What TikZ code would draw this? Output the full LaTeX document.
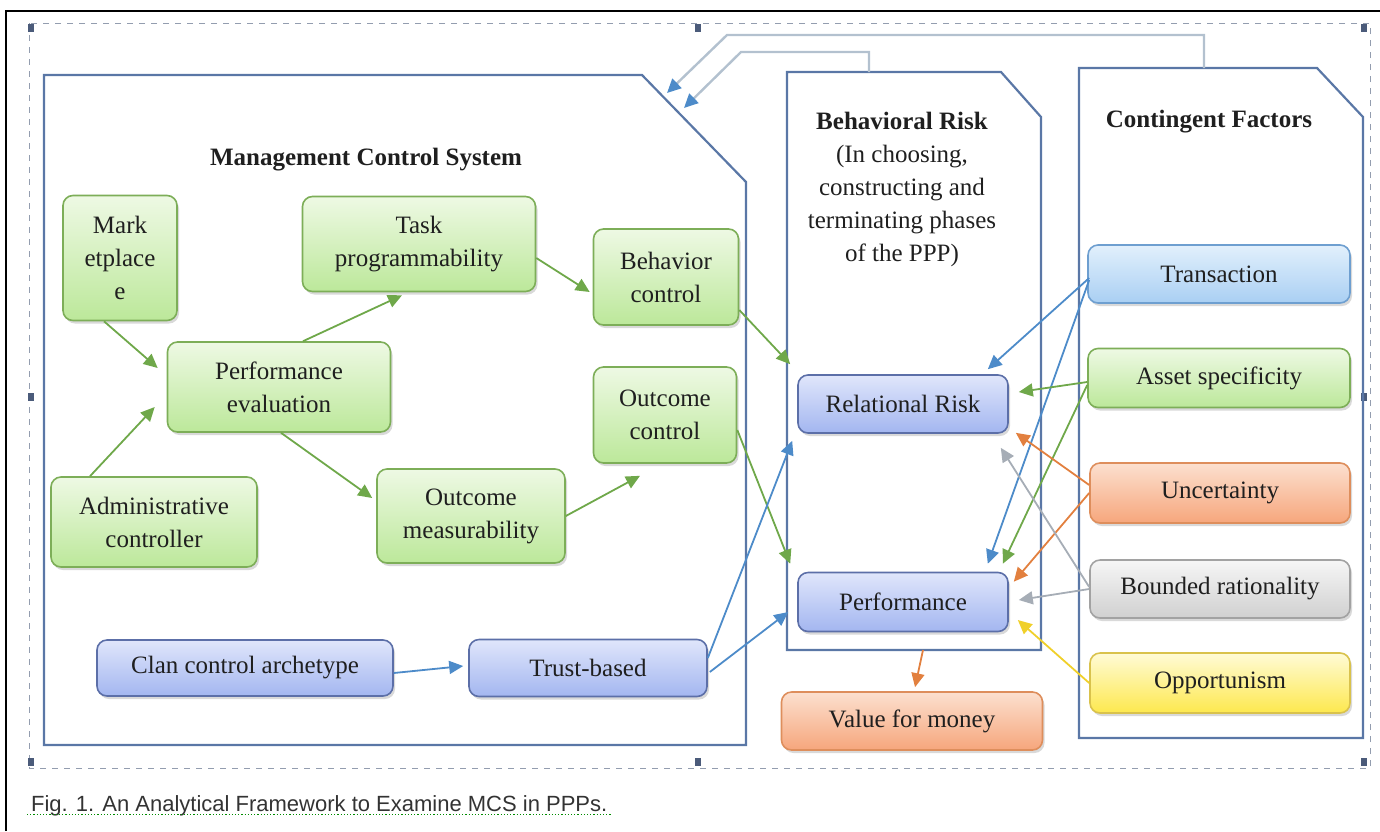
\documentclass[tikz,border=0pt]{standalone}
\usepackage{fontspec}
\setmainfont{Liberation Serif}
\newfontfamily\legendafont{Liberation Sans}
\usetikzlibrary{arrows.meta,shadows}

\definecolor{verdetopo}{HTML}{EEF9E4}
\definecolor{verdebase}{HTML}{BCE89A}
\definecolor{verdeborda}{HTML}{7DAE58}
\definecolor{azultopo}{HTML}{E0E6FB}
\definecolor{azulbase}{HTML}{A3B6F0}
\definecolor{azulborda}{HTML}{5C6FA8}
\definecolor{celestetopo}{HTML}{E2F0FC}
\definecolor{celestebase}{HTML}{A9CFF3}
\definecolor{celesteborda}{HTML}{6E9FD0}
\definecolor{laranjatopo}{HTML}{FCE0CF}
\definecolor{laranjabase}{HTML}{F6A67C}
\definecolor{laranjaborda}{HTML}{DE8E5C}
\definecolor{cinzatopo}{HTML}{F6F6F6}
\definecolor{cinzabase}{HTML}{D0D0D0}
\definecolor{cinzaborda}{HTML}{A2A2A2}
\definecolor{amarelotopo}{HTML}{FFFBD6}
\definecolor{amarelobase}{HTML}{FDE84E}
\definecolor{amareloborda}{HTML}{D9C24C}
\definecolor{moldura}{HTML}{5A77A6}
\definecolor{setaverde}{HTML}{6FA84A}
\definecolor{setaazul}{HTML}{4D8BC9}
\definecolor{setalaranja}{HTML}{E2803F}
\definecolor{setacinza}{HTML}{A6ADB6}
\definecolor{setaamarela}{HTML}{F0D02A}
\definecolor{retorno}{HTML}{B3C1CF}
\definecolor{alca}{HTML}{4B5B7A}

\begin{document}
\begin{tikzpicture}[
    x=0.5pt, y=-0.5pt, % coordenadas em pixels, y para baixo
    every node/.style={align=center, font=\fontsize{12.5}{16.5}\selectfont, text=black!88},
    caixa/.style={rectangle, rounded corners=5pt, draw, line width=0.8pt, inner sep=2pt,
        drop shadow={shadow xshift=1pt, shadow yshift=-1.5pt, opacity=0.3}},
    verde/.style={caixa, draw=verdeborda, top color=verdetopo, bottom color=verdebase},
    azul/.style={caixa, draw=azulborda, top color=azultopo, bottom color=azulbase},
    celeste/.style={caixa, draw=celesteborda, top color=celestetopo, bottom color=celestebase},
    laranja/.style={caixa, draw=laranjaborda, top color=laranjatopo, bottom color=laranjabase},
    cinza/.style={caixa, draw=cinzaborda, top color=cinzatopo, bottom color=cinzabase},
    amarelo/.style={caixa, draw=amareloborda, top color=amarelotopo, bottom color=amarelobase},
    bloco/.style={draw=moldura, line width=1.1pt}, % molduras dos grupos
    titulo/.style={font=\bfseries\fontsize{12.5}{16.5}\selectfont},
    seta/.style={-{Triangle[length=7pt,width=6.5pt]}, line width=0.9pt},
]
\useasboundingbox (0,0) rectangle (1380,831);

% borda e retangulo de selecao
\draw[line width=1pt] (6,831) -- (6,11) -- (1380,11);
\draw[alca!60, dashed, line width=0.5pt] (29,23) rectangle (1370,768);
\foreach \px/\py in {31/28, 698/28, 1364/28, 31/397, 1364/397, 31/762, 698/762, 1364/762}
    \fill[alca] (\px-3,\py-4) rectangle (\px+3,\py+4);

% molduras
\draw[bloco] (44,75) -- (642,75) -- (746,182) -- (746,745) -- (44,745) -- cycle;
\draw[bloco] (787,72) -- (1001,72) -- (1041,117) -- (1041,650) -- (787,650) -- cycle;
\draw[bloco] (1079,68) -- (1317,68) -- (1363,117) -- (1363,738) -- (1079,738) -- cycle;
\coordinate (brtopo) at (869,72);
\coordinate (brbase) at (923,650);
\coordinate (cftopo) at (1204,68);
\coordinate (mcsa) at (667,93);
\coordinate (mcsb) at (684,108);

\node[titulo] (titulomcs) at (366,160) {Management Control System};
\node (titulobr) at (902,189) {\textbf{Behavioral Risk}\\(In choosing,\\constructing and\\terminating phases\\of the PPP)};
\node[titulo] (titulocf) at (1209,122) {Contingent Factors};

% sistema de controle
\node[verde, minimum width=57pt, minimum height=62.5pt] (mark) at (120,258) {Mark\\etplace\\e};
\node[verde, minimum width=116.5pt, minimum height=47.5pt] (task) at (419,244) {Task\\programmability};
\node[verde, minimum width=72.5pt, minimum height=48pt] (behav) at (666,277) {Behavior\\control};
\node[verde, minimum width=111.5pt, minimum height=45pt] (perfeval) at (279,387) {Performance\\evaluation};
\node[verde, minimum width=71.5pt, minimum height=48pt] (outctrl) at (665,415) {Outcome\\control};
\node[verde, minimum width=103pt, minimum height=45pt] (admin) at (154,522) {Administrative\\controller};
\node[verde, minimum width=94pt, minimum height=47pt] (outmeas) at (471,516) {Outcome\\measurability};
\node[azul, minimum width=148pt, minimum height=28pt] (clan) at (245,668) {Clan control archetype};
\node[azul, minimum width=119pt, minimum height=28.5pt] (trust) at (588,668) {Trust-based};

% risco comportamental
\node[azul, minimum width=105pt, minimum height=29pt] (relrisk) at (903,404) {Relational Risk};
\node[azul, minimum width=105pt, minimum height=29.5pt] (perf) at (903,602) {Performance};
\node[laranja, minimum width=130.5pt, minimum height=29pt] (vfm) at (912,721) {Value for money};

% fatores contingentes
\node[celeste, minimum width=131pt, minimum height=29pt] (transaction) at (1219,274) {Transaction};
\node[verde, minimum width=131pt, minimum height=29.5pt] (asset) at (1219,378) {Asset specificity};
\node[laranja, minimum width=130pt, minimum height=30pt] (uncert) at (1220,493) {Uncertainty};
\node[cinza, minimum width=130pt, minimum height=29pt] (bounded) at (1220,589) {Bounded rationality};
\node[amarelo, minimum width=130pt, minimum height=30pt] (opport) at (1220,683) {Opportunism};

% setas internas
\draw[seta, setaverde] ([shift={(-16,0)}]mark.south) -- ([shift={(-9,-19)}]perfeval.west);
\draw[seta, setaverde] ([shift={(-64,0)}]admin.north) -- ([shift={(-12,20)}]perfeval.west);
\draw[seta, setaverde] ([shift={(24,0)}]perfeval.north) -- ([shift={(-17,3)}]task.south);
\draw[seta, setaverde] ([shift={(0,14)}]task.east) -- ([shift={(-3,15)}]behav.west);
\draw[seta, setaverde] ([shift={(2,0)}]perfeval.south) -- ([shift={(-4,-18)}]outmeas.west);
\draw[seta, setaverde] (outmeas.east) -- ([shift={(-25,12)}]outctrl.south);
\draw[seta, setaverde] ([shift={(0,33)}]behav.east) -- ([shift={(-7,-10)}]relrisk.north west);
\draw[seta, setaverde] ([shift={(0,15)}]outctrl.east) -- ([shift={(-7,-8)}]perf.north west);
\draw[seta, setaazul] ([shift={(0,5)}]clan.east) -- ([shift={(-5,-2)}]trust.west);
\draw[seta, setaazul] ([shift={(0,-10)}]trust.east) -- ([shift={(-5,7)}]relrisk.south west);
\draw[seta, setaazul] ([shift={(2,4)}]trust.east) -- ([shift={(-9,10)}]perf.west);

% setas dos fatores
\draw[seta, setaazul] ([shift={(2,4)}]transaction.west) -- ([shift={(-21,-5)}]relrisk.north east);
\draw[seta, setaazul] ([shift={(2,6)}]transaction.west) -- ([shift={(-21,-8)}]perf.north east);
\draw[seta, setaverde] ([shift={(0,4)}]asset.west) -- ([shift={(10,-12)}]relrisk.east);
\draw[seta, setaverde] ([shift={(0,7)}]asset.west) -- ([shift={(-6,-8)}]perf.north east);
\draw[seta, setalaranja] ([shift={(0,-8)}]uncert.west) -- ([shift={(7,-1)}]relrisk.south east);
\draw[seta, setalaranja] (uncert.west) -- ([shift={(5,10)}]perf.north east);
\draw[seta, setacinza] ([shift={(0,-2)}]bounded.west) -- ([shift={(-8,14)}]relrisk.south east);
\draw[seta, setacinza] (bounded.west) -- ([shift={(10,-2)}]perf.east);
\draw[seta, setaamarela] (opport.west) -- ([shift={(9,18)}]perf.east);
\draw[seta, setalaranja] (brbase) -- ([shift={(3,-4)}]vfm.north);

% retorno para o sistema de controle
\draw[retorno, line width=1.2pt, -{Triangle[length=7pt,width=6.5pt,color=setaazul]}] (cftopo) -- (1204,35) -- (727,35) -- (mcsa);
\draw[retorno, line width=1.2pt, -{Triangle[length=7pt,width=6.5pt,color=setaazul]}] (brtopo) -- (869,52) -- (741,52) -- (mcsb);

\node[anchor=west, font=\legendafont\fontsize{11}{13}\selectfont, text=black!80] (legenda) at (24,806) {Fig. 1. An Analytical Framework to Examine MCS in PPPs.};
\draw[green!55!black, densely dotted, line width=0.6pt] ([shift={(3,3)}]legenda.base west) -- ([shift={(-3,3)}]legenda.base east);
\end{tikzpicture}
\end{document}
